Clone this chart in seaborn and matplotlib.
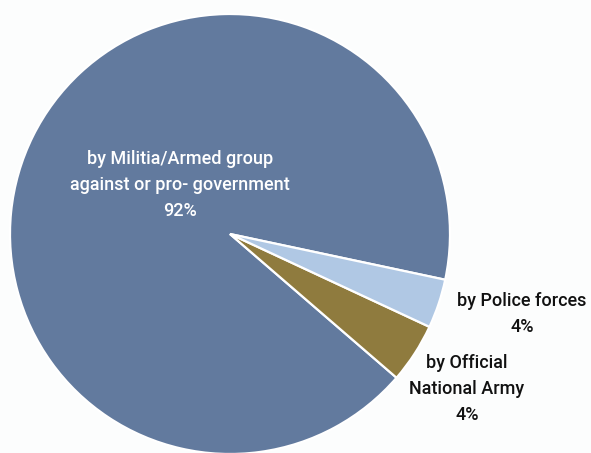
import matplotlib
matplotlib.use("Agg")
import matplotlib.pyplot as plt
import seaborn as sns

# Dados
categorias = ["by Militia/Armed group\nagainst or pro- government",
              "by Official\nNational Army",
              "by Police forces"]
valores = [92.0, 4.4, 3.6]
rotulos_pct = ["92%", "4%", "4%"]
cores = ["#627a9e", "#8f7b3e", "#b0c8e4"]

sns.set_theme(style="white")
plt.rcParams['font.family'] = ['Roboto', 'DejaVu Sans']

fig = plt.figure(figsize=(5.91, 4.53), dpi=100, facecolor="#fcfdfd")
# eixo posicionado para o centro (230, 234) px e raio ~220 px
ax = fig.add_axes([10 / 591, -1 / 453, 440 / 591, 440 / 453])
ax.set_facecolor("#fcfdfd")

wedges, _ = ax.pie(valores, colors=cores, startangle=-12, counterclock=True,
                   radius=1, wedgeprops=dict(edgecolor="white", linewidth=1.6))
ax.set_xlim(-1, 1)
ax.set_ylim(-1, 1)
ax.set_aspect("equal")
ax.axis("off")


def px(x, y):
    # converte pixel da imagem para coordenadas de dados
    return (x - 230) / 220, (234 - y) / 220


estilo = dict(ha="center", va="center", fontsize=13, linespacing=1.55,
              fontweight="medium", clip_on=False)

# Rótulos
x, y = px(180, 185)
ax.text(x, y, categorias[0] + "\n" + rotulos_pct[0], color="white", **estilo)
x, y = px(522, 314)
ax.text(x, y, categorias[2] + "\n" + rotulos_pct[2], color="#111111", **estilo)
x, y = px(467, 389)
ax.text(x, y, categorias[1] + "\n" + rotulos_pct[1], color="#111111", **estilo)

fig.savefig("out.png", dpi=100, facecolor=fig.get_facecolor())
